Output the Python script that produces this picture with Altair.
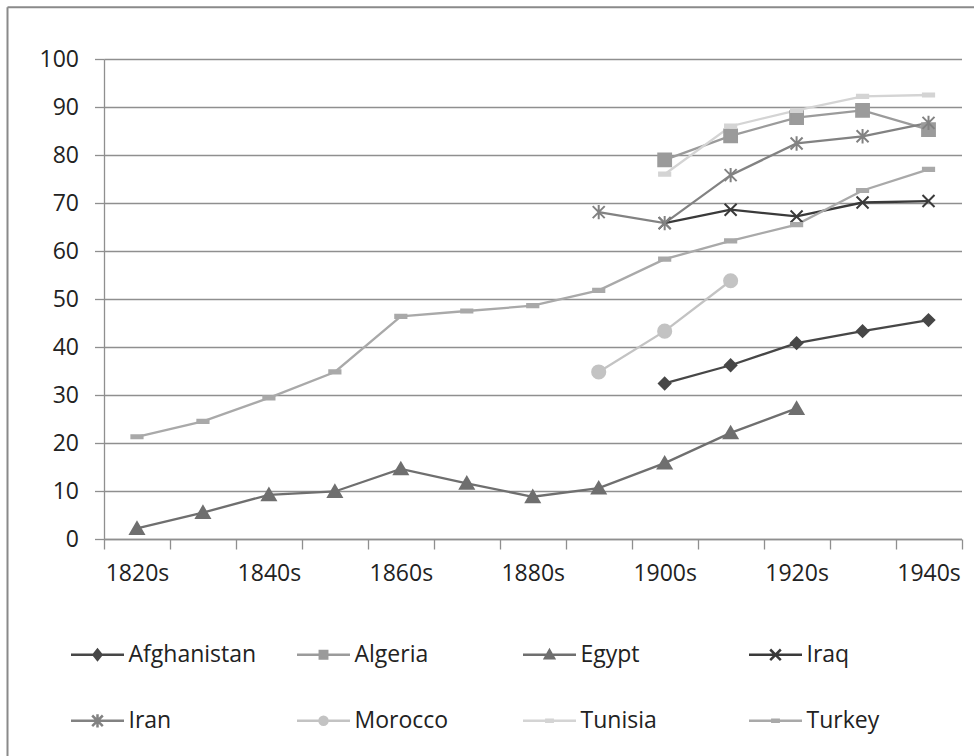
import json

import altair as alt
import pandas as pd

# Decade categories and which of them carry a visible tick label
decades = ["1820s", "1830s", "1840s", "1850s", "1860s", "1870s", "1880s",
           "1890s", "1900s", "1910s", "1920s", "1930s", "1940s"]
shown_labels = ["1820s", "1840s", "1860s", "1880s", "1900s", "1920s", "1940s"]
y_ticks = [0, 10, 20, 30, 40, 50, 60, 70, 80, 90, 100]

series = ["Afghanistan", "Algeria", "Egypt", "Iraq", "Iran", "Morocco", "Tunisia", "Turkey"]
colors = ["#474747", "#9b9b9b", "#6f6f6f", "#3a3a3a", "#828282", "#c3c3c3", "#d4d4d4", "#a9a9a9"]

# One value per decade (None = no observation)
afghanistan = [None] * 8 + [32.4, 36.2, 40.8, 43.3, 45.6]
algeria = [None] * 8 + [79.0, 84.0, 87.8, 89.3, 85.3]
egypt = [2.2, 5.5, 9.2, 9.9, 14.6, 11.6, 8.8, 10.6, 15.8, 22.1, 27.2, None, None]
iraq = [None] * 8 + [65.8, 68.6, 67.2, 70.1, 70.4]
iran = [None] * 7 + [68.1, 65.8, 75.8, 82.4, 83.9, 86.7]
morocco = [None] * 7 + [34.8, 43.3, 53.8, None, None, None]
tunisia = [None] * 8 + [76.0, 86.0, 89.3, 92.2, 92.5]
turkey = [21.3, 24.5, 29.4, 34.8, 46.4, 47.5, 48.6, 51.8, 58.3, 62.1, 65.5, 72.6, 77.0]

values_by_series = [afghanistan, algeria, egypt, iraq, iran, morocco, tunisia, turkey]

rows = []
for name, vals in zip(series, values_by_series):
    for decade, v in zip(decades, vals):
        if v is not None:
            rows.append({"series": name, "decade": decade, "value": v})
df = pd.DataFrame(rows)

# Marker shapes drawn on the plot (unit paths, size 256 -> 8 px per unit)
marker_paths = [
    "M0,-0.72L0.72,0L0,0.72L-0.72,0Z",                                   # diamond
    "M-0.8,-0.8H0.8V0.8H-0.8Z",                                          # square
    "M0,-0.78L0.85,0.68L-0.85,0.68Z",                                    # triangle
    "M-0.75,-0.75L0.75,0.75M-0.75,0.75L0.75,-0.75",                      # x
    "M-0.75,-0.75L0.75,0.75M-0.75,0.75L0.75,-0.75M0,-0.9L0,0.9",         # asterisk
    "M-0.82,0A0.82,0.82,0,1,0,0.82,0A0.82,0.82,0,1,0,-0.82,0Z",          # circle
    "M-0.7,-0.2H0.7V0.2H-0.7Z",                                          # dash
    "M-0.7,-0.2H0.7V0.2H-0.7Z",                                          # dash
]

# Legend symbols: a line through a small marker (size 2809 -> 26.5 px per unit)
legend_paths = [
    "M-1,0H1M0,-0.19L0.15,0L0,0.19L-0.15,0Z",
    "M-1,0H1M-0.14,-0.14H0.14V0.14H-0.14Z",
    "M-1,0H1M0,-0.17L0.17,0.13L-0.17,0.13Z",
    "M-1,0H1M-0.2,-0.2L0.2,0.2M-0.2,0.2L0.2,-0.2",
    "M-1,0H1M-0.2,-0.2L0.2,0.2M-0.2,0.2L0.2,-0.2M0,-0.25L0,0.25",
    "M-1,0H1M-0.15,0A0.15,0.15,0,1,0,0.15,0A0.15,0.15,0,1,0,-0.15,0Z",
    "M-1,0H1M-0.12,-0.04H0.12V0.04H-0.12Z",
    "M-1,0H1M-0.12,-0.04H0.12V0.04H-0.12Z",
]

FONT = "Open Sans"
TEXT = "#222222"
GRID = "#8f8f8f"

PLOT_W = 857.5
PLOT_H = 480

label_expr = "indexof(" + json.dumps(shown_labels) + ", datum.value) >= 0 ? datum.label : ''"

x_enc = alt.X(
    "decade:O",
    sort=decades,
    scale=alt.Scale(type="band", domain=decades, paddingInner=0, paddingOuter=0),
    axis=alt.Axis(
        title=None, labelAngle=0, labelExpr=label_expr, tickBand="extent",
        grid=False, tickSize=10, tickColor=GRID, tickWidth=1.3,
        domainColor=GRID, domainWidth=1.3, labelPadding=13,
        labelFont=FONT, labelFontSize=23, labelColor=TEXT,
    ),
)
y_enc = alt.Y(
    "value:Q",
    scale=alt.Scale(domain=[0, 100], nice=False),
    axis=alt.Axis(
        title=None, values=y_ticks, grid=True, gridColor=GRID, gridWidth=1.3,
        tickSize=9.5, tickColor=GRID, tickWidth=1.3, domainColor=GRID, domainWidth=1.3,
        labelPadding=16, labelFont=FONT, labelFontSize=23, labelColor=TEXT,
    ),
)

base = alt.Chart(df)

lines = base.mark_line(strokeWidth=2.3).encode(
    x=x_enc, y=y_enc,
    color=alt.Color("series:N", scale=alt.Scale(domain=series, range=colors), legend=None),
    order=alt.Order("decade:O"),
)

points = base.mark_point(filled=True, opacity=1, size=256, strokeWidth=2).encode(
    x=x_enc, y=y_enc,
    shape=alt.Shape("series:N", scale=alt.Scale(domain=series, range=marker_paths), legend=None),
    fill=alt.Fill("series:N", scale=alt.Scale(domain=series, range=colors), legend=None),
    stroke=alt.Stroke("series:N", scale=alt.Scale(domain=series, range=colors), legend=None),
)

legend_def = alt.Legend(
    title=None, orient="none", legendX=-34.5, legendY=567.8,
    columns=4, direction="horizontal", gridAlign="all", columnPadding=35, rowPadding=26,
    symbolSize=2809, symbolStrokeWidth=2.5, labelOffset=3, padding=0,
    labelFont=FONT, labelFontSize=23, labelColor=TEXT, labelLimit=300,
)

# Legend-only layer: no rows survive the filter, entries come from the explicit domains
legend_layer = base.transform_filter("false").mark_point(
    filled=True, opacity=1, size=2809, strokeWidth=2.5
).encode(
    x=x_enc, y=y_enc,
    shape=alt.Shape("series:N", scale=alt.Scale(domain=series, range=legend_paths), legend=legend_def),
    fill=alt.Fill("series:N", scale=alt.Scale(domain=series, range=colors), legend=legend_def),
    stroke=alt.Stroke("series:N", scale=alt.Scale(domain=series, range=colors), legend=legend_def),
)

# Chart frame: left and top edges
frame_src = alt.Chart(pd.DataFrame({"k": [0]}))
frame_left = frame_src.mark_rule(color="#8a8a8a", strokeWidth=2).encode(
    x=alt.value(-96.5), y=alt.value(-51.7), y2=alt.value(700)
)
frame_top = frame_src.mark_rule(color="#8a8a8a", strokeWidth=2).encode(
    x=alt.value(-96.5), x2=alt.value(870), y=alt.value(-51.7)
)

chart = (
    alt.layer(frame_left, frame_top, lines, points, legend_layer)
    .resolve_scale(shape="independent", fill="independent", stroke="independent")
    .properties(
        width=PLOT_W, height=PLOT_H,
        padding={"left": 6, "top": 6, "right": 0, "bottom": 0},
        background="white",
    )
    .configure_view(stroke=None)
)

chart.save("out.html", embed_options={"renderer": "svg", "actions": False})
